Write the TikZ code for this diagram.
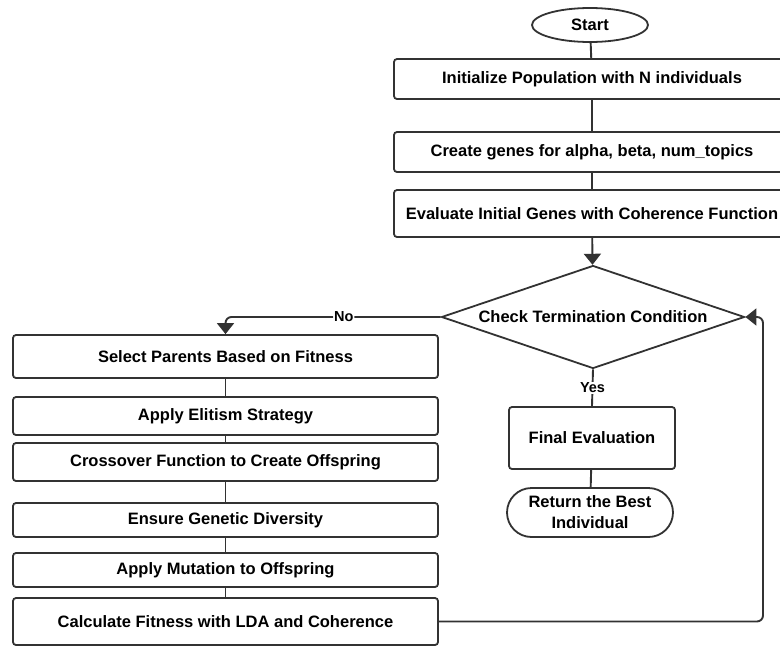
\documentclass[tikz,border=0pt]{standalone}
\usepackage{fontspec}
\setmainfont{Liberation Sans}
\usetikzlibrary{arrows.meta, positioning, shapes.geometric, shapes.misc}
\definecolor{FlowLine}{RGB}{50, 50, 50}
\tikzset{
  proc/.style={rectangle, rounded corners=3pt, draw=FlowLine, line width=1.8pt,
               fill=white, minimum width=#1, inner sep=0pt,
               font=\fontsize{16.5}{21}\selectfont\bfseries, align=center},
  proc/.default=425pt,
  term/.style={ellipse, draw=FlowLine, line width=1.8pt, fill=white, inner sep=0pt,
               font=\fontsize{16.5}{21}\selectfont\bfseries, align=center},
  stadium/.style={rounded rectangle, draw=FlowLine, line width=1.8pt, fill=white,
                  inner sep=0pt, font=\fontsize{16.5}{21}\selectfont\bfseries, align=center},
  decision/.style={diamond, aspect=3, draw=FlowLine, line width=1.8pt, fill=white,
                   inner sep=0pt, font=\fontsize{16.5}{21}\selectfont\bfseries, align=center},
  link/.style={draw=FlowLine, line width=1.9pt},
  arr/.style={-{Triangle[width=17pt, length=11pt]}, link, rounded corners=6pt},
  lbl/.style={fill=white, inner sep=1pt, font=\fontsize{14.5}{17}\selectfont\bfseries},
}

\begin{document}
\begin{tikzpicture}[x=1pt, y=-1pt]
  \useasboundingbox (0,0) rectangle (780,646);
  \clip (0,0) rectangle (780,646);

  % main column
  \node[term, minimum width=116pt, minimum height=34pt] (st) at (590,25) {Start};
  \node[proc=396pt, minimum height=40pt] (init) at (592,79) {Initialize Population with N individuals};
  \node[proc=396pt, minimum height=40pt] (gen) at (592,152) {Create genes for alpha, beta, num\_topics};
  \node[proc=396pt, minimum height=47pt] (eval) at (592,213.5) {Evaluate Initial Genes with Coherence Function};
  \node[decision, minimum width=303pt, minimum height=103pt] (chk) at (593,317) {Check Termination Condition};

  % result branch
  \node[proc=166pt, minimum height=62pt] (fin) at (592,438) {Final Evaluation};
  \node[stadium, minimum width=166pt, minimum height=49pt] (ret) at (590,512.5) {Return the Best\\Individual};

  % loop body
  \node[proc, minimum height=43pt] (sel) at (225.5,356.5) {Select Parents Based on Fitness};
  \node[proc, minimum height=38pt] (eli) at (225.5,416) {Apply Elitism Strategy};
  \node[proc, minimum height=38pt] (cro) at (225.5,462) {Crossover Function to Create Offspring};
  \node[proc, minimum height=34pt] (div) at (225.5,520) {Ensure Genetic Diversity};
  \node[proc, minimum height=34pt] (mut) at (225.5,570) {Apply Mutation to Offspring};
  \node[proc, minimum height=47pt] (fit) at (225.5,621.5) {Calculate Fitness with LDA and Coherence};
  \coordinate (back) at (763,317);

  \draw[link] (st) -- (init);
  \draw[link] (init) -- (gen);
  \draw[link] (gen) -- (eval);
  \draw[arr] (eval) -- (chk);
  \draw[arr] (chk.west) -| node[lbl, pos=0.225] {No} (sel.north);
  \draw[link] (chk.south) -- node[lbl] {Yes} (fin.north);
  \draw[link] (fin) -- (ret);
  \draw[link] (sel) -- (eli);
  \draw[link] (eli) -- (cro);
  \draw[link] (cro) -- (div);
  \draw[link] (div) -- (mut);
  \draw[link] (mut) -- (fit);
  \draw[arr] (fit.east) -| (back) -- (chk.east);
\end{tikzpicture}
\end{document}
